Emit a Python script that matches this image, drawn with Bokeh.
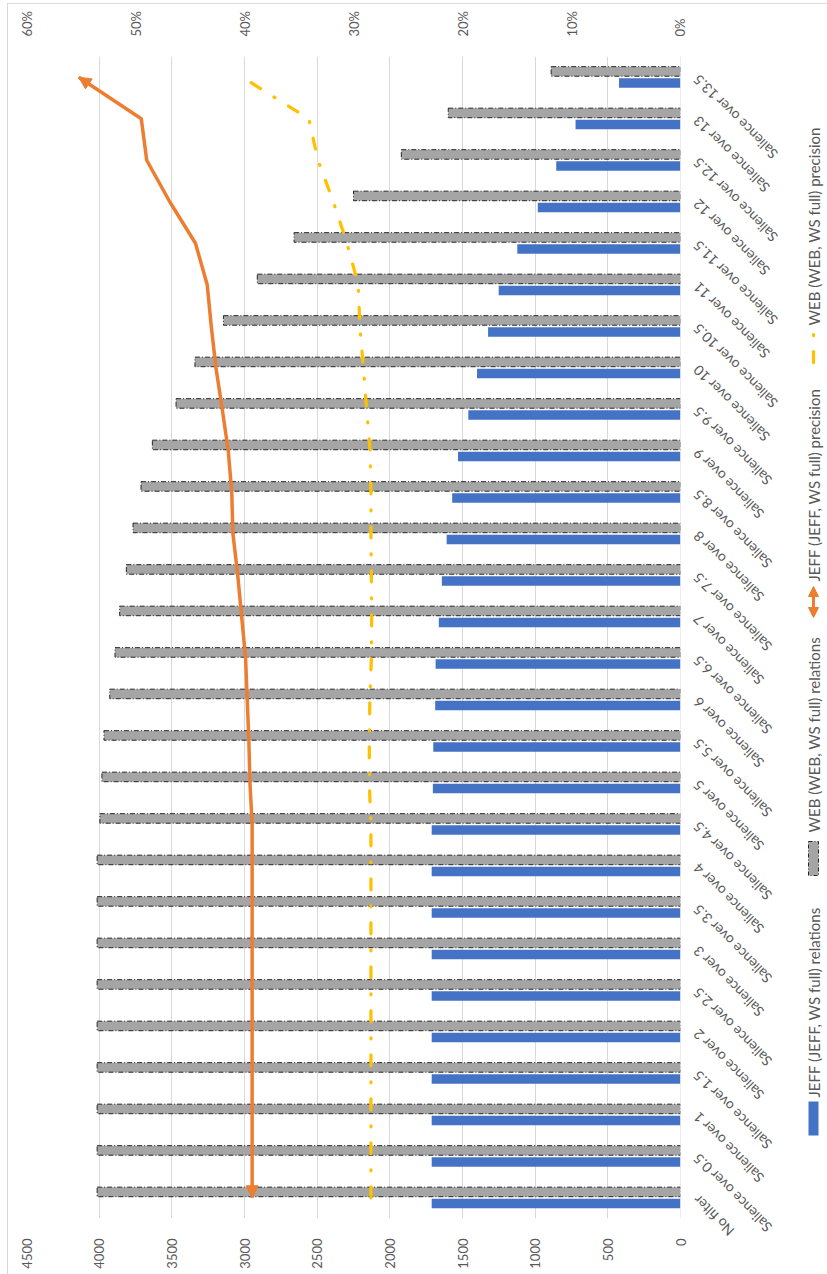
import math

from bokeh.core.properties import value
from bokeh.embed import file_html
from bokeh.layouts import row
from bokeh.models import (Arrow, ColumnDataSource, FixedTicker, LinearAxis,
                          NormalHead, NumeralTickFormatter, Range1d, Span)
from bokeh.plotting import figure
from bokeh.resources import INLINE
from bokeh.transform import dodge

# ---- data -------------------------------------------------------------------
categories = [
    "No filter", "Salience over 0.5", "Salience over 1", "Salience over 1.5",
    "Salience over 2", "Salience over 2.5", "Salience over 3", "Salience over 3.5",
    "Salience over 4", "Salience over 4.5", "Salience over 5", "Salience over 5.5",
    "Salience over 6", "Salience over 6.5", "Salience over 7", "Salience over 7.5",
    "Salience over 8", "Salience over 8.5", "Salience over 9", "Salience over 9.5",
    "Salience over 10", "Salience over 10.5", "Salience over 11", "Salience over 11.5",
    "Salience over 12", "Salience over 12.5", "Salience over 13", "Salience over 13.5",
]

jeff_relations = [1712, 1712, 1712, 1712, 1712, 1712, 1712, 1712, 1712, 1712,
                  1704, 1701, 1688, 1685, 1663, 1642, 1609, 1571, 1531, 1460,
                  1400, 1324, 1251, 1123, 982, 855, 722, 423]

web_relations = [4014, 4014, 4014, 4014, 4014, 4014, 4014, 4014, 4014, 3995,
                 3981, 3967, 3927, 3891, 3859, 3813, 3767, 3712, 3634, 3471,
                 3341, 3145, 2912, 2659, 2250, 1921, 1598, 890]

jeff_precision = [0.393, 0.393, 0.393, 0.393, 0.393, 0.393, 0.393, 0.393, 0.393, 0.393,
                  0.395, 0.396, 0.3975, 0.399, 0.4026, 0.4062, 0.4106, 0.4117, 0.4149, 0.4204,
                  0.4262, 0.4305, 0.4342, 0.445, 0.4686, 0.4897, 0.4947, 0.552]

web_precision = [0.284, 0.284, 0.284, 0.284, 0.284, 0.284, 0.284, 0.284, 0.284, 0.284,
                 0.2855, 0.2855, 0.285, 0.2836, 0.2833, 0.2836, 0.284, 0.284, 0.2847, 0.288,
                 0.2909, 0.2942, 0.2956, 0.306, 0.3185, 0.3326, 0.341, 0.402]

relation_ticks = [0, 500, 1000, 1500, 2000, 2500, 3000, 3500, 4000, 4500]
precision_ticks = [0, 0.1, 0.2, 0.3, 0.4, 0.5, 0.6]

legend_labels = [
    "JEFF (JEFF, WS full) relations",
    "WEB (WEB, WS full) relations",
    "JEFF (JEFF, WS full) precision",
    "WEB (WEB, WS full) precision",
]

# ---- styling ----------------------------------------------------------------
FONT = "Lato"
TEXT_COLOR = "#595959"
GRID_COLOR = "#D9D9D9"
BLUE = "#4472C4"
GREY = "#A5A5A5"
ORANGE = "#ED7D31"
GOLD = "#FFC000"
DASH_DOT = "11 16 1 16"

ORIGIN_Y = 4                      # page offset of the chart area (margin + border)
TOP_PAD, FRAME_H, BOTTOM_PAD = 52, 1162, 56
FIG_H = TOP_PAD + FRAME_H + BOTTOM_PAD
RIGHT_PAD = 7                     # room for the "0" tick label
SIDE_W = 140

n = len(categories)
src = ColumnDataSource(dict(
    idx=list(range(n)),
    cat=categories,
    jeff_rel=jeff_relations,
    web_rel=web_relations,
    jeff_prec=jeff_precision,
    web_prec=web_precision,
))

# ---- main plot: horizontal bars, value axis running right-to-left -------------
y_range = Range1d(-0.5, n - 0.5)
p = figure(width=672 + RIGHT_PAD, height=FIG_H,
           x_range=Range1d(max(relation_ticks), 0),
           y_range=y_range,
           output_backend="svg", toolbar_location=None,
           y_axis_location=None,
           min_border_left=18, min_border_right=RIGHT_PAD,
           min_border_top=TOP_PAD, min_border_bottom=BOTTOM_PAD)
p.outline_line_color = None
p.extra_x_ranges = {"pct": Range1d(max(precision_ticks), 0)}

ax = p.xaxis[0]
ax.ticker = FixedTicker(ticks=relation_ticks)
p.xgrid.ticker = FixedTicker(ticks=relation_ticks)
p.xgrid.grid_line_color = GRID_COLOR
p.ygrid.grid_line_color = None

top = LinearAxis(x_range_name="pct", ticker=FixedTicker(ticks=precision_ticks),
                 formatter=NumeralTickFormatter(format="0%"))
p.add_layout(top, "above")

for a in (ax, top):
    a.major_label_orientation = math.pi / 2
    a.major_tick_line_color = None
    a.minor_tick_line_color = None
    a.axis_line_color = None
    a.major_label_standoff = 14
    a.major_label_text_font = FONT
    a.major_label_text_font_size = "13px"
    a.major_label_text_color = TEXT_COLOR

p.add_layout(Span(location=0, dimension="height", line_color=GRID_COLOR, line_width=1))

p.hbar(y=dodge("idx", 0.14), left=0, right="web_rel", height=0.23, source=src,
       fill_color=GREY, line_color="#262626", line_width=1, line_dash="5 2 1 2")
p.hbar(y=dodge("idx", -0.14), left=0, right="jeff_rel", height=0.23, source=src,
       fill_color=BLUE, line_color=None)

p.line(x="jeff_prec", y="idx", source=src, x_range_name="pct",
       line_color=ORANGE, line_width=3.5, line_join="round")
p.line(x="web_prec", y="idx", source=src, x_range_name="pct",
       line_color=GOLD, line_width=3.25, line_dash=DASH_DOT, line_cap="round")

# arrow heads at both ends of the JEFF precision line
for (i0, i1) in ((n - 2, n - 1), (1, 0)):
    p.add_layout(Arrow(end=NormalHead(size=12, fill_color=ORANGE, line_color=ORANGE),
                       x_start=jeff_precision[i0], y_start=i0,
                       x_end=jeff_precision[i1], y_end=i1,
                       line_color=None, x_range_name="pct"))

# ---- side panel: slanted category labels and the legend ----------------------
# x is measured in pixels from the category axis line
q = figure(width=SIDE_W, height=FIG_H,
           x_range=Range1d(RIGHT_PAD, RIGHT_PAD + SIDE_W),
           y_range=y_range,
           output_backend="svg", toolbar_location=None,
           x_axis_location=None, y_axis_location=None,
           min_border=0, min_border_left=0, min_border_right=0,
           min_border_top=TOP_PAD, min_border_bottom=BOTTOM_PAD)
q.outline_line_color = None
q.grid.visible = False
# page-pixel scale (0 at the top of the page) for the legend entries
q.extra_y_ranges = {"px": Range1d(start=ORIGIN_Y + TOP_PAD + FRAME_H, end=ORIGIN_Y + TOP_PAD)}

q.text(x=15, y="idx", text="cat", source=src, angle=3 * math.pi / 4,
       text_align="right", text_baseline="middle", level="overlay",
       text_font=value(FONT), text_font_size="14px", text_color=TEXT_COLOR)

LX = 133
q.rect(x=LX, y=1118, width=10, height=34, fill_color=BLUE, line_color=None, y_range_name="px")
q.rect(x=LX, y=858, width=10, height=34, fill_color=GREY, line_color="#262626",
       line_width=1, line_dash="4 2 1 2", y_range_name="px")
q.add_layout(Arrow(start=NormalHead(size=10, fill_color=ORANGE, line_color=ORANGE),
                   end=NormalHead(size=10, fill_color=ORANGE, line_color=ORANGE),
                   x_start=LX, y_start=617, x_end=LX, y_end=586,
                   line_color=ORANGE, line_width=3, y_range_name="px"))
q.segment(x0=LX, y0=362, x1=LX, y1=330, line_color=GOLD, line_width=3.25,
          line_dash=DASH_DOT, line_cap="round", y_range_name="px")
q.text(x=LX, y=[1097, 832, 581, 325], text=legend_labels, angle=math.pi / 2,
       text_align="left", text_baseline="middle", y_range_name="px",
       text_font=value(FONT), text_font_size="15px", text_color=TEXT_COLOR)

layout = row(p, q, margin=(3, 0, 0, 7),
             styles={"border-top": "1px solid #D9D9D9", "border-left": "1px solid #D9D9D9"})

open("out.html", "w").write(file_html(layout, INLINE))
